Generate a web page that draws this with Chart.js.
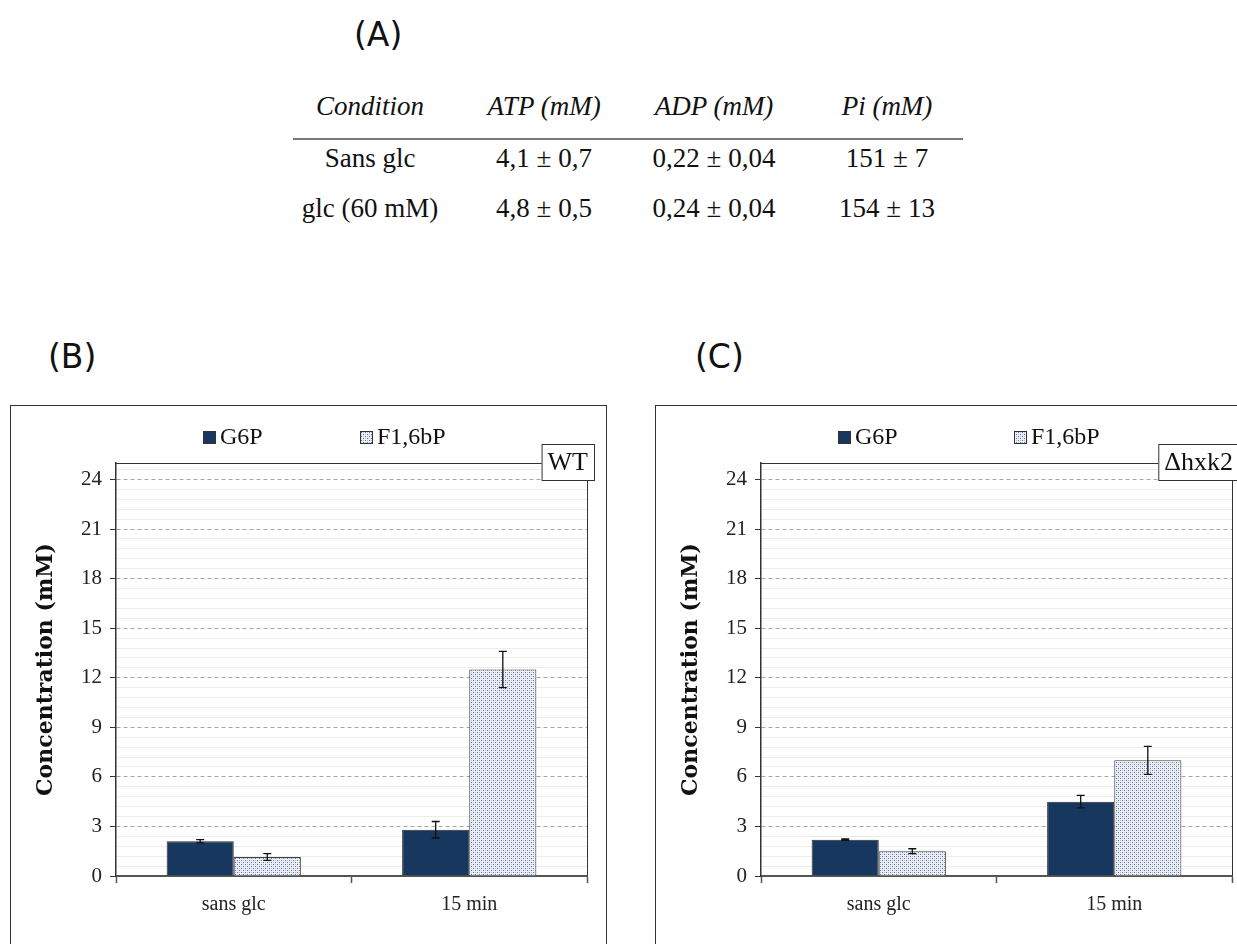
<!DOCTYPE html>
<html>
<head>
<meta charset="utf-8">
<script src="https://cdn.jsdelivr.net/npm/chart.js@4.4.1/dist/chart.umd.min.js"></script>
<style>
  body { margin: 0; width: 1237px; height: 944px; overflow: hidden; background: #fff; position: relative; font-family: "Liberation Serif", serif; color: #111; }
  .lbl { position: absolute; font-family: "DejaVu Sans", sans-serif; font-size: 33px; line-height: 1; transform: translateY(-50%); }
  .cell { position: absolute; transform: translate(-50%, -50%); white-space: nowrap; font-size: 27px; line-height: 1.2; }
  .hd { font-style: italic; }
  .rule { position: absolute; left: 293px; top: 138px; width: 670px; height: 2px; background: #7a7a7a; }
  .panel { position: absolute; top: 405px; width: 595px; height: 560px; border: 1px solid #333; }
  .panel canvas { display: block; }
</style>
</head>
<body>
<div class="lbl" style="left:354px;top:34px">(A)</div>
<div class="lbl" style="left:48px;top:356px">(B)</div>
<div class="lbl" style="left:695px;top:356px">(C)</div>
<div id="table"></div>
<div class="rule"></div>
<div class="panel" style="left:10px"><canvas id="chartWT" width="595" height="560"></canvas></div>
<div class="panel" style="left:655px"><canvas id="chartHxk" width="595" height="560"></canvas></div>

<script>
// table (A)
var tableHead = ['Condition', 'ATP (mM)', 'ADP (mM)', 'Pi (mM)'];
var tableRows = [
  ['Sans glc', '4,1 ± 0,7', '0,22 ± 0,04', '151 ± 7'],
  ['glc (60 mM)', '4,8 ± 0,5', '0,24 ± 0,04', '154 ± 13']
];

// bar charts (B) and (C)
var categories = ['sans glc', '15 min'];
var seriesNames = ['G6P', 'F1,6bP'];
var wtG6P = [2.1, 2.8];
var wtG6PErr = [0.1, 0.5];
var wtF16 = [1.15, 12.5];
var wtF16Err = [0.2, 1.1];
var hxkG6P = [2.2, 4.5];
var hxkG6PErr = [0.04, 0.38];
var hxkF16 = [1.5, 7.0];
var hxkF16Err = [0.15, 0.85];
var yMax = 25, yStep = 3, yMinorStep = 0.6;

// build the table
var colX = [370, 544, 714, 887];
var rowY = [106, 158, 208];
var tbl = document.getElementById('table');
function addCell(text, x, y, head) {
  var d = document.createElement('div');
  d.className = head ? 'cell hd' : 'cell';
  d.style.left = x + 'px';
  d.style.top = y + 'px';
  d.textContent = text;
  tbl.appendChild(d);
}
tableHead.forEach(function(t, i) { addCell(t, colX[i], rowY[0], true); });
tableRows.forEach(function(row, r) {
  row.forEach(function(t, i) { addCell(t, colX[i], rowY[r + 1], false); });
});

function dotPattern() {
  var c = document.createElement('canvas');
  c.width = 4; c.height = 4;
  var g = c.getContext('2d');
  g.fillStyle = '#eceff5';
  g.fillRect(0, 0, 4, 4);
  g.fillStyle = '#5d709a';
  g.fillRect(0, 0, 1, 1);
  g.fillRect(2, 2, 1, 1);
  g.fillStyle = '#b7c0d6';
  g.fillRect(2, 0, 1, 1);
  g.fillRect(0, 2, 1, 1);
  return g.createPattern(c, 'repeat');
}
var dots = dotPattern();
var navy = '#17375e';

// error bars, drawn through the y scale
var errorBars = {
  id: 'errorBars',
  afterDatasetsDraw: function(chart) {
    var ctx = chart.ctx, y = chart.scales.y;
    ctx.save();
    ctx.strokeStyle = '#111';
    ctx.lineWidth = 1.3;
    chart.data.datasets.forEach(function(ds, d) {
      chart.getDatasetMeta(d).data.forEach(function(bar, i) {
        var v = ds.data[i], e = ds.errors[i];
        var top = y.getPixelForValue(v + e), bot = y.getPixelForValue(v - e);
        ctx.beginPath();
        ctx.moveTo(bar.x, top); ctx.lineTo(bar.x, bot);
        ctx.moveTo(bar.x - 4, top); ctx.lineTo(bar.x + 4, top);
        ctx.moveTo(bar.x - 4, bot); ctx.lineTo(bar.x + 4, bot);
        ctx.stroke();
      });
    });
    ctx.restore();
  }
};

// frame on top and right of the plot area
var plotFrame = {
  id: 'plotFrame',
  beforeDatasetsDraw: function(chart) {
    var a = chart.chartArea, ctx = chart.ctx;
    ctx.save();
    ctx.strokeStyle = '#333';
    ctx.lineWidth = 1;
    ctx.beginPath();
    ctx.moveTo(a.left, a.top + 0.5);
    ctx.lineTo(a.right + 0.5, a.top + 0.5);
    ctx.lineTo(a.right + 0.5, a.bottom);
    ctx.stroke();
    ctx.restore();
  }
};

// legend row and the strain tag
var legendAndTag = {
  id: 'legendAndTag',
  afterDraw: function(chart, args, opts) {
    var ctx = chart.ctx;
    ctx.save();
    ctx.font = '24px "Liberation Serif"';
    ctx.textBaseline = 'middle';
    chart.data.datasets.forEach(function(ds, d) {
      var x = opts.legendX[d], y = opts.legendY;
      ctx.fillStyle = ds.backgroundColor;
      ctx.fillRect(x, y, 13, 13);
      ctx.strokeStyle = '#333';
      ctx.lineWidth = 1;
      ctx.strokeRect(x + 0.5, y + 0.5, 12, 12);
      ctx.fillStyle = '#111';
      ctx.fillText(ds.label, x + 17, y + 7);
    });
    ctx.font = '26px "Liberation Serif"';
    var w = ctx.measureText(opts.tag).width + 12;
    var right = opts.tagRight, top = 38, h = 36;
    ctx.fillStyle = '#fff';
    ctx.fillRect(right - w, top, w, h);
    ctx.strokeStyle = '#333';
    ctx.strokeRect(right - w + 0.5, top + 0.5, w, h);
    ctx.fillStyle = '#111';
    ctx.textAlign = 'center';
    ctx.fillText(opts.tag, right - w / 2, top + h / 2 + 1);
    ctx.restore();
  }
};

function majorTicks(s) {
  var list = [];
  for (var v = 0; v < yMax; v += yStep) list.push({ value: v });
  s.ticks = list;
}
function minorTicks(s) {
  var list = [];
  for (var i = 1; i * yMinorStep < yMax; i++) {
    if (i % 5 === 0) continue;
    list.push({ value: Math.round(i * yMinorStep * 10) / 10 });
  }
  s.ticks = list;
}

function makeChart(id, g6p, g6pErr, f16, f16Err, tag, legendX) {
  return new Chart(document.getElementById(id), {
    type: 'bar',
    data: {
      labels: categories,
      datasets: [{
        label: seriesNames[0],
        data: g6p,
        errors: g6pErr,
        backgroundColor: navy,
        borderColor: '#2a2a2a',
        borderWidth: 1
      }, {
        label: seriesNames[1],
        data: f16,
        errors: f16Err,
        backgroundColor: dots,
        borderColor: '#404040',
        borderWidth: 1
      }]
    },
    options: {
      responsive: false,
      animation: false,
      categoryPercentage: 0.57,
      barPercentage: 1,
      layout: { padding: { top: 57, right: 19, left: 0, bottom: 0 } },
      plugins: {
        legend: { display: false },
        tooltip: { enabled: false },
        legendAndTag: { legendX: legendX, legendY: 25, tag: tag, tagRight: 583 }
      },
      scales: {
        x: {
          afterFit: function(s) { s.height = 90; },
          grid: { offset: true, drawOnChartArea: false, drawTicks: true, tickLength: 7, tickColor: '#555', tickWidth: 1.5 },
          border: { color: '#555', width: 2 },
          ticks: { font: { family: 'Liberation Serif', size: 20 }, color: '#222', padding: 10 }
        },
        y: {
          min: 0,
          max: yMax,
          afterFit: function(s) { s.width = 105; },
          afterBuildTicks: majorTicks,
          ticks: { font: { family: 'Liberation Serif', size: 21 }, color: '#222', padding: 8 },
          grid: {
            color: function(c) { return c.tick && c.tick.value === 0 ? 'rgba(0,0,0,0)' : '#a6a6a6'; },
            lineWidth: 1,
            drawTicks: true,
            tickLength: 6,
            tickColor: '#333'
          },
          border: { color: '#333', width: 1.5, dash: [4, 3] },
          title: {
            display: true,
            text: 'Concentration (mM)',
            font: { family: 'DejaVu Serif', weight: 'bold', size: 22 },
            color: '#111',
            padding: { top: 22, bottom: 0 }
          }
        },
        yMinor: {
          position: 'right',
          min: 0,
          max: yMax,
          afterFit: function(s) { s.width = 0; },
          afterBuildTicks: minorTicks,
          ticks: { display: false },
          grid: { color: '#ececec', lineWidth: 1, drawTicks: false },
          border: { display: false }
        }
      }
    },
    plugins: [plotFrame, errorBars, legendAndTag]
  });
}

makeChart('chartWT', wtG6P, wtG6PErr, wtF16, wtF16Err, 'WT', [192, 349]);
makeChart('chartHxk', hxkG6P, hxkG6PErr, hxkF16, hxkF16Err, 'Δhxk2', [182, 358]);
</script>
</body>
</html>
